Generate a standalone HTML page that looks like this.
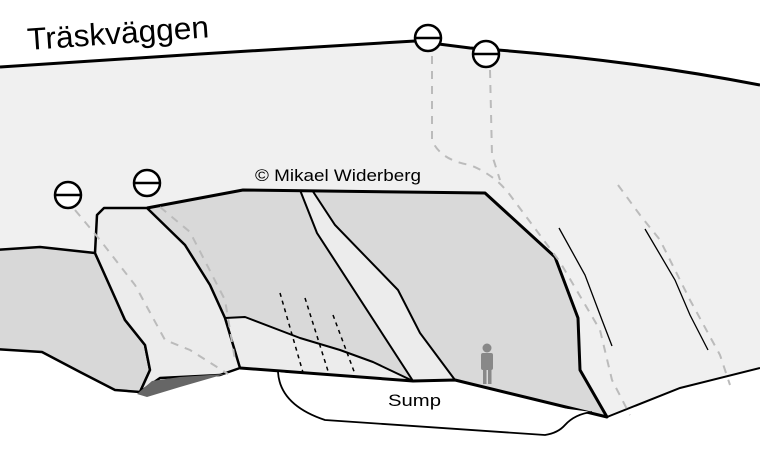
<!DOCTYPE html>
<html><head><meta charset="utf-8"><style>html,body{margin:0;padding:0;background:#fff}svg{display:block}</style></head>
<body>
<svg width="760" height="449" viewBox="0 0 760 449" xmlns="http://www.w3.org/2000/svg" font-family="Liberation Sans, sans-serif">
<rect width="760" height="449" fill="#fff"/>
<path d="M0,67 L200,54 L415,41 L470,48 Q620,58 760,85 L760,368 L680,388 L607,417 L455,380 L240,368 L95,253 L40,247 L0,250 Z" fill="#f0f0f0"/>
<path d="M0,67 L200,54 L415,41 L470,48 Q620,58 760,85" fill="none" stroke="#000" stroke-width="3"/>
<path d="M607,417 L680,388 L760,368" fill="none" stroke="#000" stroke-width="2"/>
<path d="M-5,250 L40,247 L95,253 L112,290 L125,320 L145,345 L150,370 L140,392 L115,390 L80,372 L42,352 L-5,349 Z" fill="#d8d8d8" stroke="#000" stroke-width="2.5" stroke-linejoin="round"/>
<path d="M147,208 L243,190 L485,193 L555,257 L578,318 L580,370 L607,417 L455,380 L413,381 L240,368 L225,318 L210,285 L185,245 Z" fill="#d9d9d9"/>
<path d="M300,190 L312,190 L335,225 L398,290 L420,333 L455,380 L413,381 L317,233 Z" fill="#ececec"/>
<path d="M225,318 L245,317 L300,338 L340,350 L373,362 L413,381 L240,368 Z" fill="#ececec" stroke="#000" stroke-width="2" stroke-linejoin="round"/>
<path d="M147,208 L243,190 L485,193 L555,257 L578,318 L580,370 L607,417 L455,380 L413,381 L240,368" fill="none" stroke="#000" stroke-width="3" stroke-linejoin="round"/>
<path d="M300,190 L317,233 L413,381" fill="none" stroke="#000" stroke-width="2"/>
<path d="M312,190 L335,225 L398,290 L420,333 L455,380" fill="none" stroke="#000" stroke-width="2"/>
<path d="M97,215 L104,208 L147,208 L185,245 L210,285 L225,318 L240,368 L220,375 L160,378 L140,392 L150,370 L145,345 L125,320 L95,253 Z" fill="#ececec" stroke="#000" stroke-width="2.5" stroke-linejoin="round"/>
<path d="M137,394 L152,381 L180,377 L225,374 L180,387 L147,397 Z" fill="#666"/>
<path d="M278,372 Q280,405 325,420 L545,435 Q558,433 565,425 Q575,414 592,412" fill="#fff" stroke="#000" stroke-width="1.8"/>
<g stroke="#000" stroke-width="1.5" stroke-dasharray="4,4" fill="none">
<path d="M280,293 L304,376"/><path d="M305,298 L328,371"/><path d="M333,315 L355,374"/>
</g>
<g stroke="#bbb" stroke-width="2" stroke-dasharray="8,7" fill="none">
<path d="M75,210 L100,240 L135,285 L165,340 L190,350 L228,374"/>
<path d="M160,207 L190,232 L225,300 L235,360"/>
<path d="M432,56 L432,140 Q440,160 470,165 Q495,175 510,195 L560,262 L600,330 L612,380 L630,415"/>
<path d="M490,70 L492,155 L500,180"/>
<path d="M618,185 L640,215 L660,240 L690,300 L720,355 L730,385"/>
</g>
<g stroke="#000" stroke-width="1.3" fill="none">
<path d="M559,228 L585,275 L602,320 L612,346"/>
<path d="M645,229 L675,280 L690,315 L708,350"/>
</g>
<g fill="#fff" stroke="#000" stroke-width="2.5">
<circle cx="68" cy="195" r="13"/><circle cx="147" cy="183" r="13"/><circle cx="428" cy="38" r="13"/><circle cx="486" cy="54" r="13"/>
</g>
<g stroke="#000" stroke-width="2.5"><path d="M55,195 H81 M134,183 H160 M415,38 H441 M473,54 H499"/></g>
<g fill="#888"><circle cx="487" cy="348" r="4.5"/><rect x="481" y="353" width="12" height="17" rx="2"/><rect x="483" y="368" width="3.5" height="16"/><rect x="488" y="368" width="3.5" height="16"/></g>
<text x="28" y="50" font-size="31" transform="rotate(-4 28 50)" textLength="182" lengthAdjust="spacingAndGlyphs">Träskväggen</text>
<text x="255" y="181" font-size="17" textLength="166" lengthAdjust="spacingAndGlyphs">© Mikael Widerberg</text>
<text x="388" y="406" font-size="17" textLength="53" lengthAdjust="spacingAndGlyphs">Sump</text>
</svg>
</body></html>
